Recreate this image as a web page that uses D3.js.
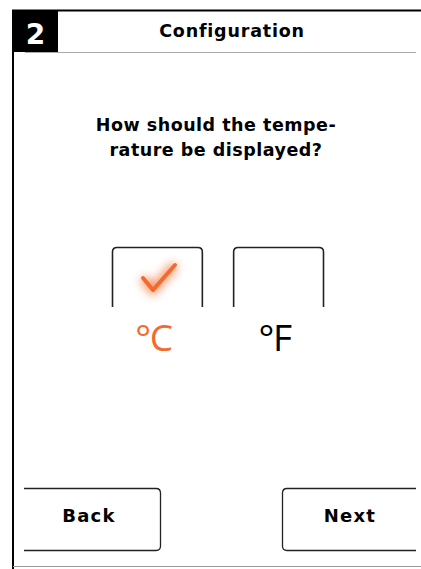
<!DOCTYPE html>
<html>
<head>
<meta charset="utf-8">
<script src="https://cdn.jsdelivr.net/npm/d3@7"></script>
<style>
  html, body { margin: 0; padding: 0; background: #fff; }
  svg { display: block; }
</style>
</head>
<body>
<svg id="screen"></svg>
<script>
// Size of the screen
const w = 421;
const h = 569;

// Content of the screen
const stepNumber = "2";
const title = "Configuration";
const questionLines = ["How should the tempe-", "rature be displayed?"];
const unitOptions = ["°C", "°F"];
const selectedUnit = "°C";
const navButtons = ["Back", "Next"];

const orange = "#f26a2e";
const headFont = "'DejaVu Sans', sans-serif";

const svg = d3.select("#screen").attr("width", w).attr("height", h);

// glow behind the check mark
const defs = svg.append("defs");
defs.append("filter").attr("id", "glow")
  .attr("x", "-50%").attr("y", "-50%").attr("width", "200%").attr("height", "200%")
  .append("feGaussianBlur").attr("stdDeviation", 5);

// frame: top line, left line, bottom line
svg.append("line").attr("x1", 12).attr("x2", w).attr("y1", 10.5).attr("y2", 10.5)
  .attr("stroke", "#000").attr("stroke-width", 2);
svg.append("line").attr("x1", 13).attr("x2", 13).attr("y1", 10).attr("y2", h)
  .attr("stroke", "#000").attr("stroke-width", 2);
svg.append("line").attr("x1", 13).attr("x2", w).attr("y1", 566.5).attr("y2", 566.5)
  .attr("stroke", "#999").attr("stroke-width", 1);

// header
svg.append("rect").attr("x", 12).attr("y", 10).attr("width", 46).attr("height", 42).attr("fill", "#000");
svg.append("text").attr("x", 35.5).attr("y", 44).attr("text-anchor", "middle")
  .attr("font-family", headFont).attr("font-weight", "bold").attr("font-size", 28)
  .attr("fill", "#fff").text(stepNumber);
svg.append("line").attr("x1", 25).attr("x2", 416).attr("y1", 52.5).attr("y2", 52.5)
  .attr("stroke", "#aaa").attr("stroke-width", 1);
svg.append("text").attr("x", 232).attr("y", 37).attr("text-anchor", "middle")
  .attr("font-family", headFont).attr("font-weight", "bold").attr("font-size", 17.5)
  .attr("letter-spacing", 0.8)
  .attr("fill", "#000").text(title);

// question
svg.append("g").selectAll("text")
  .data(questionLines)
  .enter().append("text")
  .attr("x", 216)
  .attr("y", (d, i) => 131 + i * 25)
  .attr("text-anchor", "middle")
  .attr("font-family", headFont).attr("font-weight", "bold").attr("font-size", 17.5)
  .attr("letter-spacing", 0.5)
  .text(d => d);

// unit options: an open box with a label underneath
const xUnit = d3.scaleBand().domain(unitOptions).range([112, 324]).paddingInner(0.25);

const opt = svg.append("g").selectAll("g")
  .data(unitOptions)
  .enter().append("g")
  .attr("transform", d => `translate(${xUnit(d)},0)`);

const bw = xUnit.bandwidth();
opt.append("path")
  .attr("d", `M0.5,307 V252 Q0.5,247.5 5,247.5 H${bw - 5} Q${bw - 0.5},247.5 ${bw - 0.5},252 V307`)
  .attr("fill", "none").attr("stroke", "#222").attr("stroke-width", 1.6);

opt.append("text")
  .attr("x", bw / 2 - 4).attr("y", 351)
  .attr("text-anchor", "middle")
  .attr("font-family", "'Open Sans', sans-serif").attr("font-size", 37)
  .attr("letter-spacing", -1.5)
  .attr("fill", d => d === selectedUnit ? orange : "#000")
  .text(d => d);

// check mark for the selected option
const check = svg.append("g")
  .attr("transform", `translate(${xUnit(selectedUnit)},0)`);
const checkPath = "M31,278 L41,290 L63,265";
check.append("path").attr("d", checkPath).attr("fill", "none")
  .attr("stroke", orange).attr("stroke-width", 8).attr("opacity", 0.8)
  .attr("filter", "url(#glow)");
check.append("path").attr("d", checkPath).attr("fill", "none")
  .attr("stroke", orange).attr("stroke-width", 4).attr("stroke-linecap", "round").attr("stroke-linejoin", "round");

// navigation buttons: Back opens to the left, Next opens to the right
const btn = svg.append("g").selectAll("g")
  .data(navButtons)
  .enter().append("g");

btn.append("path")
  .attr("d", (d, i) => i === 0
    ? "M24,488.5 H156 Q160.5,488.5 160.5,493 V546 Q160.5,550.5 156,550.5 H24"
    : "M416,488.5 H287 Q282.5,488.5 282.5,493 V546 Q282.5,550.5 287,550.5 H416")
  .attr("fill", "none").attr("stroke", "#222").attr("stroke-width", 1.3);

btn.append("text")
  .attr("x", (d, i) => i === 0 ? 89 : 350)
  .attr("y", 522)
  .attr("text-anchor", "middle")
  .attr("font-family", headFont).attr("font-weight", "bold").attr("font-size", 18)
  .attr("letter-spacing", 1.2)
  .text(d => d);
</script>
</body>
</html>
